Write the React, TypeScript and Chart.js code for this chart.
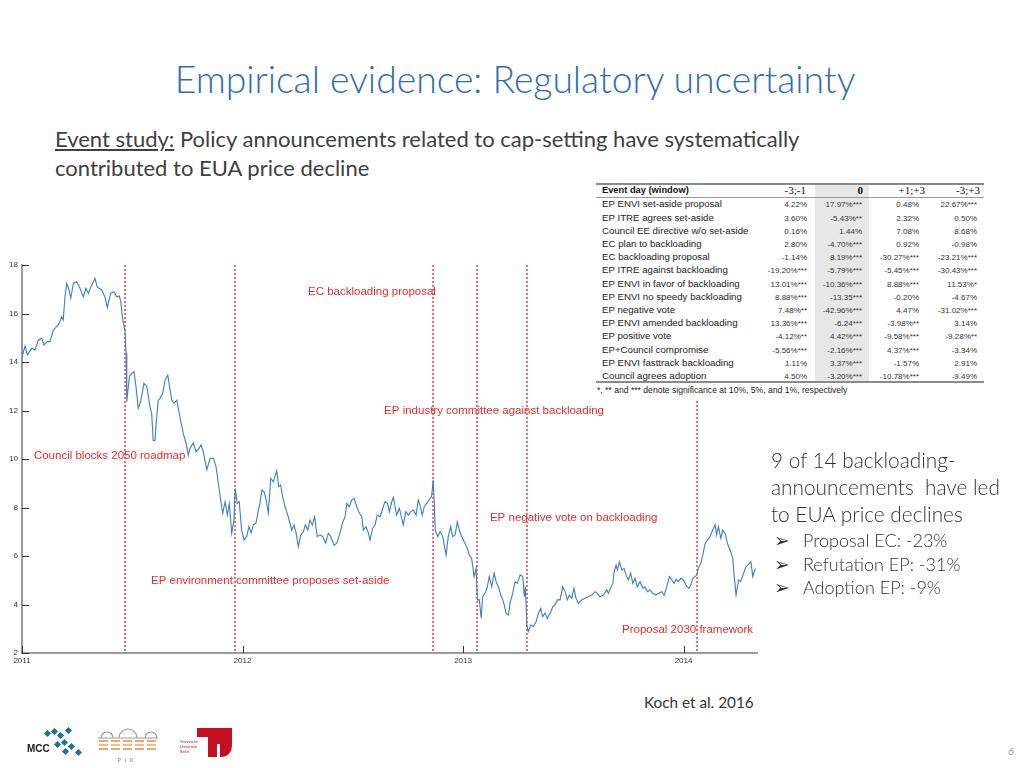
import React, { useEffect, useRef } from "react";
import { Chart, registerables } from "chart.js";

Chart.register(...registerables);

// ---------- DATA ----------
// EUA price (EUR/t); dates as decimal years
const tradingDates: number[] = [
  2011.000, 2011.014, 2011.024, 2011.044, 2011.059, 2011.074, 2011.089, 2011.100, 2011.115, 2011.127,
  2011.142, 2011.157, 2011.169, 2011.180, 2011.187, 2011.195, 2011.203, 2011.213, 2011.221, 2011.233,
  2011.248, 2011.263, 2011.278, 2011.290, 2011.301, 2011.316, 2011.331, 2011.341, 2011.361, 2011.376,
  2011.387, 2011.402, 2011.417, 2011.429, 2011.441, 2011.448, 2011.457, 2011.467, 2011.472, 2011.474,
  2011.476, 2011.487, 2011.497, 2011.508, 2011.517, 2011.527, 2011.538, 2011.553, 2011.566, 2011.580,
  2011.588, 2011.595, 2011.603, 2011.611, 2011.618, 2011.626, 2011.638, 2011.649, 2011.661, 2011.668,
  2011.679, 2011.689, 2011.702, 2011.713,
  2011.731, 2011.744, 2011.754, 2011.762, 2011.777, 2011.789, 2011.800, 2011.812, 2011.822, 2011.838,
  2011.853, 2011.868, 2011.880, 2011.890, 2011.901, 2011.910, 2011.921, 2011.931, 2011.940, 2011.951,
  2011.961, 2011.967, 2011.976, 2011.985, 2011.996, 2012.007, 2012.019, 2012.029, 2012.039, 2012.049,
  2012.061, 2012.072, 2012.079, 2012.088, 2012.098, 2012.107, 2012.117, 2012.128, 2012.140, 2012.155,
  2012.164, 2012.173, 2012.182, 2012.193, 2012.203, 2012.215, 2012.223, 2012.234, 2012.243, 2012.253,
  2012.264, 2012.276, 2012.285, 2012.296, 2012.306, 2012.317, 2012.327, 2012.339, 2012.351, 2012.364,
  2012.377, 2012.389, 2012.400, 2012.415, 2012.427, 2012.442, 2012.453, 2012.465, 2012.473, 2012.484,
  2012.495, 2012.506, 2012.518, 2012.530, 2012.541, 2012.548, 2012.560, 2012.571,
  2012.578, 2012.590, 2012.601, 2012.611, 2012.624, 2012.636, 2012.646, 2012.657, 2012.666, 2012.677,
  2012.684, 2012.692, 2012.699, 2012.711, 2012.722, 2012.729, 2012.741, 2012.752, 2012.763, 2012.775,
  2012.787, 2012.797, 2012.805, 2012.815, 2012.824, 2012.835, 2012.846, 2012.857, 2012.865, 2012.870,
  2012.874, 2012.885, 2012.896, 2012.908, 2012.923, 2012.933, 2012.944, 2012.953, 2012.964, 2012.974,
  2012.983, 2012.994, 2013.005, 2013.017, 2013.029, 2013.039, 2013.050, 2013.059, 2013.065, 2013.074,
  2013.082, 2013.089, 2013.100, 2013.110, 2013.119, 2013.130, 2013.141, 2013.150, 2013.160, 2013.171,
  2013.183, 2013.195, 2013.206, 2013.213, 2013.225, 2013.236, 2013.246, 2013.259, 2013.271, 2013.278,
  2013.283, 2013.289, 2013.296, 2013.307, 2013.319, 2013.331, 2013.342, 2013.352, 2013.361, 2013.372,
  2013.382, 2013.395, 2013.407, 2013.417, 2013.428,
  2013.440, 2013.452, 2013.463, 2013.473, 2013.482, 2013.493, 2013.503, 2013.512, 2013.523, 2013.538,
  2013.553, 2013.568, 2013.584, 2013.599, 2013.609, 2013.621, 2013.636, 2013.652, 2013.659, 2013.667,
  2013.679, 2013.685, 2013.694, 2013.700, 2013.709, 2013.720, 2013.730, 2013.739, 2013.750, 2013.760,
  2013.770, 2013.780, 2013.790, 2013.803, 2013.815, 2013.825, 2013.836, 2013.848, 2013.860, 2013.875,
  2013.887, 2013.901, 2013.912, 2013.924, 2013.936, 2013.947, 2013.957, 2013.966, 2013.976, 2013.987,
  2013.999, 2014.011, 2014.024, 2014.033, 2014.042, 2014.052, 2014.060, 2014.067, 2014.078, 2014.087,
  2014.098, 2014.108, 2014.120, 2014.132, 2014.143, 2014.150, 2014.158, 2014.169, 2014.178, 2014.188,
  2014.199, 2014.211, 2014.223, 2014.229, 2014.238, 2014.249, 2014.259, 2014.270, 2014.283, 2014.293,
  2014.305, 2014.314, 2014.320, 2014.326,
];

const euaPrice: number[] = [
  14.20, 14.66, 14.29, 14.57, 14.50, 14.90, 14.98, 14.70, 14.84, 14.84,
  15.32, 15.46, 15.60, 15.87, 15.73, 16.69, 17.24, 16.97, 16.63, 17.24,
  17.31, 17.04, 16.69, 17.04, 16.83, 17.18, 17.45, 17.10, 16.97, 16.69,
  16.25, 16.83, 16.90, 16.69, 16.72, 16.49, 15.73, 15.32, 14.36, 13.39,
  12.36, 13.39, 13.53, 13.60, 12.98, 12.09, 12.36, 13.12, 12.98, 12.16,
  11.88, 10.76, 10.76, 11.75, 12.43, 12.50, 12.71, 13.26, 13.46, 13.05,
  12.43, 12.30, 12.43, 11.88,
  11.06, 10.65, 10.16, 10.44, 10.67, 10.30, 10.40, 10.58, 10.30, 9.55,
  10.03, 10.03, 9.68, 9.00, 8.31, 7.76, 8.24, 7.69, 8.17, 6.94,
  7.48, 8.79, 8.17, 8.24, 7.07, 6.66, 6.80, 7.21, 6.94, 7.28,
  7.35, 7.90, 8.17, 8.72, 8.65, 8.31, 7.76, 9.20, 9.06, 9.52,
  8.86, 8.93, 8.45, 8.03, 7.76, 7.35, 7.07, 7.28, 6.94, 6.38,
  6.87, 7.00, 7.28, 7.07, 7.48, 7.28, 7.62, 6.80, 6.87, 6.80,
  6.52, 6.94, 6.80, 6.45, 6.52, 6.94, 7.35, 7.62, 8.17, 8.03,
  8.31, 8.38, 8.03, 7.76, 7.62, 7.07, 7.21, 6.94,
  6.66, 7.14, 7.28, 7.69, 7.62, 7.97, 8.24, 8.17, 7.83, 8.24,
  8.42, 8.03, 7.69, 7.97, 7.55, 7.28, 7.83, 7.69, 7.83, 7.90,
  7.69, 8.31, 8.10, 7.69, 8.03, 8.17, 8.31, 8.45, 9.13, 8.03,
  7.07, 6.80, 7.00, 6.80, 6.04, 6.80, 7.21, 6.80, 6.87, 7.41,
  7.07, 6.80, 6.59, 6.38, 6.04, 5.90, 5.15, 5.49, 4.19, 4.19,
  3.43, 4.32, 4.46, 4.73, 5.15, 4.73, 5.29, 4.94, 4.73, 4.39,
  4.12, 3.64, 3.57, 4.05, 4.46, 4.94, 4.87, 5.22, 5.15, 4.32,
  4.73, 3.15, 2.88, 3.15, 3.09, 3.29, 3.64, 3.84, 3.50, 3.64,
  3.43, 3.64, 3.91, 3.98, 4.19,
  4.19, 4.73, 4.53, 4.19, 4.39, 4.26, 4.67, 4.26, 4.05, 4.19,
  4.26, 4.32, 4.39, 4.53, 4.46, 4.32, 4.39, 4.60, 4.46, 4.63,
  4.87, 5.35, 5.63, 5.42, 5.77, 5.42, 5.49, 5.22, 5.01, 5.29,
  4.87, 5.08, 4.73, 4.94, 4.67, 4.73, 4.53, 4.60, 4.46, 4.39,
  4.46, 4.53, 4.39, 4.73, 5.15, 5.01, 4.87, 5.04, 4.94, 5.08,
  5.01, 4.80, 4.67, 4.80, 5.08, 5.15, 5.22, 5.49, 5.70, 6.04,
  6.52, 6.66, 6.80, 7.07, 7.28, 6.87, 7.21, 6.73, 7.07, 6.94,
  6.52, 6.25, 5.90, 5.22, 4.39, 5.01, 4.94, 5.22, 5.56, 5.63,
  5.77, 5.15, 5.35, 5.49,
];

// Policy events (vertical dotted lines)
const eventDates: number[] = [2011.467, 2011.966, 2012.864, 2013.063, 2013.290, 2014.061];

const annotationTexts: string[] = [
  "Council blocks 2050 roadmap",
  "EP environment committee proposes set-aside",
  "EC backloading proposal",
  "EP industry committee against backloading",
  "EP negative vote on backloading",
  "Proposal 2030 framework",
];
// anchor (left edge, vertical middle) of each label, in axis units
const annotationAnchorX: number[] = [2011.054, 2011.585, 2012.297, 2012.642, 2013.122, 2013.721];
const annotationAnchorY: number[] = [10.12, 4.97, 16.89, 11.98, 7.57, 2.95];

const xTickYears: number[] = [2011, 2012, 2013, 2014];

// Event study table
const tableHeaders: string[] = ["Event day (window)", "-3;-1", "0", "+1;+3", "-3;+3"];
const tableEvents: string[] = [
  "EP ENVI set-aside proposal",
  "EP ITRE agrees set-aside",
  "Council EE directive w/o set-aside",
  "EC plan to backloading",
  "EC backloading proposal",
  "EP ITRE against backloading",
  "EP ENVI in favor of backloading",
  "EP ENVI no speedy backloading",
  "EP negative vote",
  "EP ENVI amended backloading",
  "EP positive vote",
  "EP+Council compromise",
  "EP ENVI fasttrack backloading",
  "Council agrees adoption",
];
const colPre: string[] = ["4.22%", "3.60%", "0.16%", "2.80%", "-1.14%", "-19.20%***", "13.01%***", "8.88%***", "7.48%**", "13.36%***", "-4.12%**", "-5.56%***", "1.11%", "4.50%"];
const colDay0: string[] = ["17.97%***", "-5.43%**", "1.44%", "-4.70%***", "8.19%***", "-5.79%***", "-10.36%***", "-13.35***", "-42.96%***", "-6.24***", "4.42%***", "-2.16%***", "3.37%***", "-3.20%***"];
const colPost: string[] = ["0.48%", "2.32%", "7.08%", "0.92%", "-30.27%***", "-5.45%***", "8.88%***", "-0.20%", "4.47%", "-3.98%**", "-9.58%***", "4.37%***", "-1.57%", "-10.78%***"];
const colAll: string[] = ["22.67%***", "0.50%", "8.68%", "-0.98%", "-23.21%***", "-30.43%***", "11.53%*", "-4.67%", "-31.02%***", "3.14%", "-9.28%**", "-3.34%", "2.91%", "-9.49%"];
const tableNote = "*, ** and *** denote significance at 10%, 5%, and 1%, respectively";

const bulletLines: string[] = ["Proposal EC: -23%", "Refutation EP: -31%", "Adoption EP: -9%"];

// ---------- STYLE ----------
const RED = "#f0282a";
const LINE_BLUE = "#3b7ec6";

const eventLinesPlugin = {
  id: "eventLines",
  beforeDatasetsDraw(chart: any) {
    const { ctx, chartArea, scales } = chart;
    const x = scales.x;
    ctx.save();
    ctx.lineWidth = 1.6;
    ctx.strokeStyle = "rgba(240, 40, 40, 0.85)";
    ctx.setLineDash([2, 2]);
    eventDates.forEach((d) => {
      const px = Math.round(x.getPixelForValue(d));
      ctx.beginPath();
      ctx.moveTo(px, Math.round(chartArea.top));
      ctx.lineTo(px, Math.round(chartArea.bottom));
      ctx.stroke();
    });
    ctx.restore();
  },
  afterDatasetsDraw(chart: any) {
    const { ctx, scales } = chart;
    ctx.save();
    ctx.fillStyle = RED;
    ctx.font = '11.5px "Liberation Sans", Arial, sans-serif';
    ctx.textAlign = "left";
    ctx.textBaseline = "middle";
    annotationTexts.forEach((t, i) => {
      ctx.fillText(t, scales.x.getPixelForValue(annotationAnchorX[i]), scales.y.getPixelForValue(annotationAnchorY[i]));
    });
    ctx.restore();
  },
  afterDraw(chart: any) {
    const { ctx, chartArea, scales } = chart;
    ctx.save();
    ctx.strokeStyle = "#333";
    ctx.lineWidth = 1;
    scales.y.ticks.forEach((t: any) => {
      const py = Math.round(scales.y.getPixelForValue(t.value)) + 0.5;
      ctx.beginPath();
      ctx.moveTo(chartArea.left, py);
      ctx.lineTo(chartArea.left + 7, py);
      ctx.stroke();
    });
    scales.x.ticks.forEach((t: any) => {
      const px = Math.round(scales.x.getPixelForValue(t.value)) + 0.5;
      ctx.beginPath();
      ctx.moveTo(px, chartArea.bottom);
      ctx.lineTo(px, chartArea.bottom - 7);
      ctx.stroke();
    });
    ctx.restore();
  },
};

function PriceChart() {
  const ref = useRef<HTMLCanvasElement>(null);
  useEffect(() => {
    const canvas = ref.current;
    if (!canvas) return;
    const chart = new Chart(canvas, {
      type: "line",
      data: {
        datasets: [
          {
            data: tradingDates.map((d, i) => ({ x: d, y: euaPrice[i] })),
            borderColor: LINE_BLUE,
            borderWidth: 1.1,
            pointRadius: 0,
            tension: 0,
            fill: false,
          },
        ],
      },
      options: {
        animation: false,
        responsive: false,
        maintainAspectRatio: false,
        layout: { padding: { top: 10, right: 18, left: 0, bottom: 0 } },
        plugins: { legend: { display: false }, tooltip: { enabled: false } },
        scales: {
          x: {
            type: "linear",
            min: 2011,
            max: 2014.333,
            afterBuildTicks: (scale: any) => {
              scale.ticks = xTickYears.map((v) => ({ value: v }));
            },
            afterFit: (scale: any) => {
              scale.height = 22;
            },
            grid: { display: false, drawTicks: false },
            border: { display: true, color: "#9a9a9a", width: 2 },
            ticks: {
              font: { family: '"Liberation Sans", Arial, sans-serif', size: 8 },
              color: "#333",
              padding: 3,
              maxRotation: 0,
              callback: (v: any) => String(v),
            },
          },
          y: {
            type: "linear",
            min: 2,
            max: 18,
            afterFit: (scale: any) => {
              scale.width = 22;
            },
            grid: { display: false, drawTicks: false },
            border: { display: true, color: "#9a9a9a", width: 2 },
            ticks: {
              stepSize: 2,
              font: { family: '"Liberation Sans", Arial, sans-serif', size: 8 },
              color: "#333",
              padding: 4,
            },
          },
        },
      },
      plugins: [eventLinesPlugin],
    } as any);
    return () => chart.destroy();
  }, []);
  return (
    <canvas
      ref={ref}
      width={775}
      height={420}
      style={{ position: "absolute", left: 0, top: 255, width: 775, height: 420 }}
    />
  );
}

function EventTable() {
  const rowTop = (i: number) => 198.4 + i * 13.2;
  const numStyle = (right: number): React.CSSProperties => ({
    position: "absolute",
    right: 988 - right,
    whiteSpace: "nowrap",
    font: '8px "Liberation Sans", Arial, sans-serif',
    color: "#333",
    lineHeight: "13.2px",
  });
  const colRights = [807, 862, 919, 977];
  const cols = [colPre, colDay0, colPost, colAll];
  return (
    <div style={{ position: "absolute", left: 594, top: 181, width: 394, height: 218, background: "#fff" }}>
      <div style={{ position: "absolute", inset: 0, left: -594, top: -181, width: 988 }}>
        <div style={{ position: "absolute", left: 815, top: 185, width: 54, height: 197, background: "#e7e7e7" }} />
        <div style={{ position: "absolute", left: 596, top: 183, width: 388, height: 2, background: "#8a8a8a" }} />
        <div style={{ position: "absolute", left: 596, top: 197, width: 388, height: 1, background: "#9a9a9a" }} />
        <div style={{ position: "absolute", left: 596, top: 381, width: 388, height: 2, background: "#8a8a8a" }} />
        <div style={{ position: "absolute", left: 602, top: 185, lineHeight: "13px", font: 'bold 9.3px "Liberation Sans", Arial, sans-serif', color: "#111", whiteSpace: "nowrap" }}>
          {tableHeaders[0]}
        </div>
        {tableHeaders.slice(1).map((h, j) => (
          <div
            key={h + j}
            style={{
              position: "absolute",
              right: 988 - [806, 863, 925, 980][j],
              top: 184,
              lineHeight: "14px",
              font: (j === 1 ? "bold " : "") + '11px "Liberation Serif", "Times New Roman", serif',
              color: "#111",
              whiteSpace: "nowrap",
            }}
          >
            {h}
          </div>
        ))}
        {tableEvents.map((ev, i) => (
          <React.Fragment key={ev}>
            <div style={{ position: "absolute", left: 602, top: rowTop(i), lineHeight: "13.2px", font: '9.7px "Liberation Sans", Arial, sans-serif', color: "#222", whiteSpace: "nowrap" }}>
              {ev}
            </div>
            {cols.map((c, j) => (
              <div key={j} style={{ ...numStyle(colRights[j]), top: rowTop(i) }}>
                {c[i]}
              </div>
            ))}
          </React.Fragment>
        ))}
        <div style={{ position: "absolute", left: 597, top: 385, lineHeight: "12px", font: '8.6px "Liberation Sans", Arial, sans-serif', color: "#222", whiteSpace: "nowrap" }}>
          {tableNote}
        </div>
      </div>
    </div>
  );
}

function Logos() {
  const squares = [
    [45, 731], [52, 729], [58, 733], [66, 728], [62, 740], [69, 744], [76, 750], [63, 749], [55, 742],
  ];
  return (
    <svg style={{ position: "absolute", left: 0, top: 0 }} width={1024} height={768}>
      <text x={27} y={752} fontFamily='"Liberation Sans", Arial, sans-serif' fontWeight="bold" fontSize={10} fill="#222">MCC</text>
      {squares.map(([x, y], i) => (
        <rect key={i} x={x} y={y} width={5} height={5} fill="#1f6e9e" transform={`rotate(45 ${x + 2.5} ${y + 2.5})`} />
      ))}
      <g fill="none" stroke="#9a9a9a" strokeWidth={1.2}>
        <path d="M101 738 A6 6 0 0 1 113 738" />
        <path d="M119 738 A9 9 0 0 1 137 738" />
        <path d="M145 738 A6 6 0 0 1 157 738" />
        <line x1={98} y1={738} x2={158} y2={738} />
      </g>
      {[741, 745, 749].map((y, i) => (
        <line key={i} x1={99} y1={y} x2={157} y2={y} stroke={i === 1 ? "#f5a45a" : "#f08a2c"} strokeWidth={1.6} strokeDasharray="9 3" />
      ))}
      <text x={118} y={762} fontFamily='"Liberation Sans", Arial, sans-serif' fontSize={4.5} fill="#666" letterSpacing={4}>PIK</text>
      <path d="M197 728 H232 V744 Q232 757 220 757 V744 H217 V757 H208 V737 H197 Z" fill="#c50e1f" />
      <text x={180} y={743} fontFamily='"Liberation Sans", Arial, sans-serif' fontSize={3.6} fill="#c50e1f">Technische</text>
      <text x={180} y={748} fontFamily='"Liberation Sans", Arial, sans-serif' fontSize={3.6} fill="#c50e1f">Universität</text>
      <text x={180} y={753} fontFamily='"Liberation Sans", Arial, sans-serif' fontSize={3.6} fill="#c50e1f">Berlin</text>
    </svg>
  );
}

export default function App() {
  const sans = 'Lato, "Open Sans", sans-serif';
  return (
    <div
      style={{
        position: "absolute",
        left: 0,
        top: 0,
        width: 1024,
        height: 768,
        background: "#fff",
        overflow: "hidden",
        fontFamily: sans,
      }}
    >
      <div
        style={{
          position: "absolute",
          left: 0,
          top: 60,
          width: 1030,
          textAlign: "center",
          fontSize: 37.3,
          lineHeight: "38px",
          fontWeight: 300,
          color: "#2e6db4",
          whiteSpace: "nowrap",
        }}
      >
        Empirical evidence: Regulatory uncertainty
      </div>
      <div style={{ position: "absolute", left: 55, top: 124, fontSize: 22, lineHeight: "29px", color: "#404040", whiteSpace: "nowrap" }}>
        <span style={{ textDecoration: "underline" }}>Event study:</span> Policy announcements related to cap-setting have systematically
        <br />
        contributed to EUA price decline
      </div>

      <PriceChart />
      <EventTable />

      <div style={{ position: "absolute", left: 771, top: 446, fontSize: 20.8, lineHeight: "27px", color: "#333", whiteSpace: "nowrap", fontWeight: 300 }}>
        9 of 14 backloading-
        <br />
        announcements&nbsp; have led
        <br />
        to EUA price declines
      </div>
      {bulletLines.map((b, i) => (
        <div key={b} style={{ position: "absolute", left: 774, top: 531 + i * 23.5, fontSize: 18, lineHeight: "18px", color: "#333", whiteSpace: "nowrap", fontWeight: 300 }}>
          <span style={{ fontFamily: '"DejaVu Sans", sans-serif', fontSize: 19, display: "inline-block", width: 29, verticalAlign: "top", lineHeight: "18px" }}>➢</span>
          {b}
        </div>
      ))}

      <div style={{ position: "absolute", left: 644, top: 695, fontSize: 15.3, lineHeight: "15px", color: "#333", whiteSpace: "nowrap" }}>
        Koch et al. 2016
      </div>
      <div style={{ position: "absolute", left: 1008, top: 746, fontSize: 10, lineHeight: "10px", color: "#999" }}>6</div>

      <Logos />
    </div>
  );
}
